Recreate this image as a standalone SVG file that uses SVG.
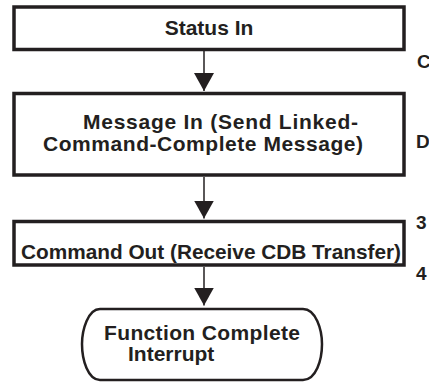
<svg xmlns="http://www.w3.org/2000/svg" width="429" height="383" viewBox="0 0 429 383">
<style>
  .box { fill: #ffffff; stroke: #231f20; stroke-width: 3.5; }
  .term { fill: #ffffff; stroke: #231f20; stroke-width: 2.5; }
  .t { font-family: "Liberation Sans", Arial, sans-serif; font-weight: bold; font-size: 21px; fill: #231f20; }
  .side { font-family: "Liberation Sans", Arial, sans-serif; font-weight: bold; font-size: 19px; fill: #231f20; }
  .conn { stroke: #231f20; stroke-width: 1.5; fill: none; marker-end: url(#arrow); }
</style>
<defs>
  <marker id="arrow" markerUnits="userSpaceOnUse" viewBox="0 -11 19 22" refX="18" refY="0" markerWidth="19" markerHeight="22" orient="auto">
    <path d="M0,-10 L18,0 L0,10 Z" fill="#231f20"/>
  </marker>
</defs>
<rect width="429" height="383" fill="#ffffff"/>
<g id="connectors">
  <line class="conn" x1="204" y1="51" x2="204" y2="91"/>
  <line class="conn" x1="204" y1="177" x2="204" y2="218.5"/>
  <line class="conn" x1="204" y1="267" x2="204" y2="305.5"/>
</g>
<g id="status-in">
  <rect class="box" x="14" y="7" width="390" height="42.5"/>
  <text class="t" x="209" y="35" text-anchor="middle">Status In</text>
</g>
<g id="message-in">
  <rect class="box" x="14" y="93.5" width="390" height="81.5"/>
  <text class="t" x="83" y="129" textLength="275" lengthAdjust="spacing">Message In (Send Linked-</text>
  <text class="t" x="43" y="150.5" textLength="320" lengthAdjust="spacing">Command-Complete Message)</text>
</g>
<g id="command-out">
  <rect class="box" x="14" y="221.5" width="390" height="43.5"/>
  <text class="t" x="21" y="258.5" textLength="380" lengthAdjust="spacingAndGlyphs">Command Out (Receive CDB Transfer)</text>
</g>
<g id="function-complete">
  <path class="term" d="M100,309 L303,309 C316,309 322,330 322,344 C322,360 316,380 303,380 L100,380 C88,380 82,360 82,344 C82,330 88,309 100,309 Z"/>
  <text class="t" x="104" y="340" textLength="196" lengthAdjust="spacing">Function  Complete</text>
  <text class="t" x="128" y="361">Interrupt</text>
</g>
<g id="side-labels">
  <text class="side" x="417" y="68">C</text>
  <text class="side" x="416" y="148">D</text>
  <text class="side" x="416" y="229">3</text>
  <text class="side" x="416" y="280">4</text>
</g>
</svg>
